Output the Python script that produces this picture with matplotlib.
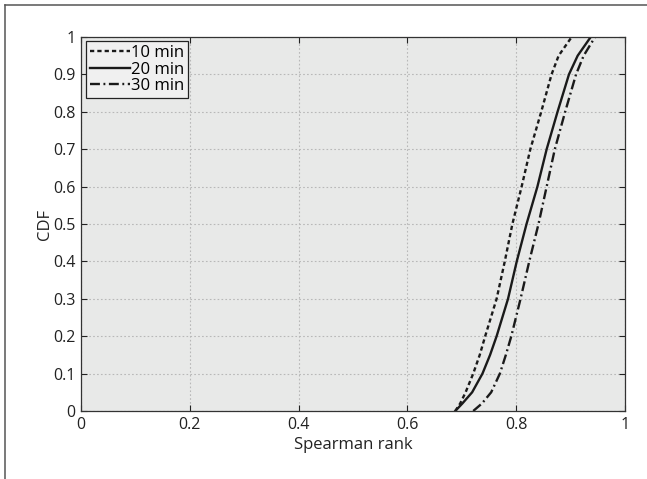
import numpy as np
import matplotlib
matplotlib.use('Agg')
import matplotlib.pyplot as plt
from matplotlib.lines import Line2D

plt.rcParams['font.family'] = ['Open Sans', 'DejaVu Sans']

# CDF levels and the Spearman rank reached at each level
cdf = [0, 0.02, 0.05, 0.1, 0.15, 0.2, 0.3, 0.4, 0.5, 0.6, 0.7, 0.8, 0.9, 0.95, 1.0]
rank_10 = [0.688, 0.697, 0.707, 0.721, 0.733, 0.743, 0.764, 0.779, 0.793, 0.810, 0.826, 0.846, 0.865, 0.878, 0.902]
rank_20 = [0.688, 0.701, 0.719, 0.738, 0.752, 0.764, 0.785, 0.801, 0.819, 0.839, 0.856, 0.876, 0.897, 0.913, 0.937]
rank_30 = [0.721, 0.737, 0.754, 0.770, 0.781, 0.791, 0.808, 0.824, 0.841, 0.856, 0.871, 0.890, 0.910, 0.924, 0.945]
labels = ['10 min', '20 min', '30 min']

xticks = [0, 0.2, 0.4, 0.6, 0.8, 1]
xticklabels = ['0', '0.2', '0.4', '0.6', '0.8', '1']
yticks = [0, 0.1, 0.2, 0.3, 0.4, 0.5, 0.6, 0.7, 0.8, 0.9, 1]
yticklabels = ['0', '0.1', '0.2', '0.3', '0.4', '0.5', '0.6', '0.7', '0.8', '0.9', '1']

fig = plt.figure(figsize=(6.47, 4.79), dpi=100)
ax = fig.add_axes([0.1252, 0.142, 0.8408, 0.7808])
ax.set_facecolor('#e8e9e8')

col = '#1a1a1a'
ax.plot(rank_10, cdf, color=col, lw=1.7, linestyle=(0, (1.8, 1.3)), label=labels[0])
ax.plot(rank_20, cdf, color=col, lw=1.7, linestyle='-', label=labels[1])
ax.plot(rank_30, cdf, color=col, lw=1.7, linestyle=(0, (4.2, 1.5, 0.8, 1.5)), label=labels[2])

ax.set_xlim(0, 1)
ax.set_ylim(0, 1)
ax.set_xticks(xticks)
ax.set_xticklabels(xticklabels)
ax.set_yticks(yticks)
ax.set_yticklabels(yticklabels)
ax.tick_params(direction='in', length=4.5, width=0.8, top=True, right=True,
               labelsize=11.5, colors='#222222')
ax.tick_params(axis='x', pad=4)
ax.tick_params(axis='y', pad=4)
ax.grid(True, linestyle=(0, (1.5, 2)), color='#b8b8b8', lw=0.8)
ax.set_axisbelow(True)
for s in ax.spines.values():
    s.set_color('#333333')
    s.set_linewidth(0.9)

ax.set_xlabel('Spearman rank', fontsize=12, color='#222222', labelpad=3)
ax.set_ylabel('CDF', fontsize=12, color='#222222', labelpad=0)

leg = ax.legend(loc='upper left', bbox_to_anchor=(0.009, 0.989), borderaxespad=0,
                fontsize=12, handlelength=2.4, handletextpad=0.05, labelspacing=0.02,
                borderpad=0.25, fancybox=False, framealpha=1)
leg.get_frame().set_facecolor('#f0f0f0')
leg.get_frame().set_edgecolor('#222222')
leg.get_frame().set_linewidth(0.9)

# thin frame along the top and left edges
fig.add_artist(Line2D([5 / 647, 1], [1 - 5 / 479, 1 - 5 / 479], color='#555555', lw=1.1))
fig.add_artist(Line2D([5 / 647, 5 / 647], [0, 1 - 5 / 479], color='#555555', lw=1.1))

fig.savefig('out.png', dpi=100)
